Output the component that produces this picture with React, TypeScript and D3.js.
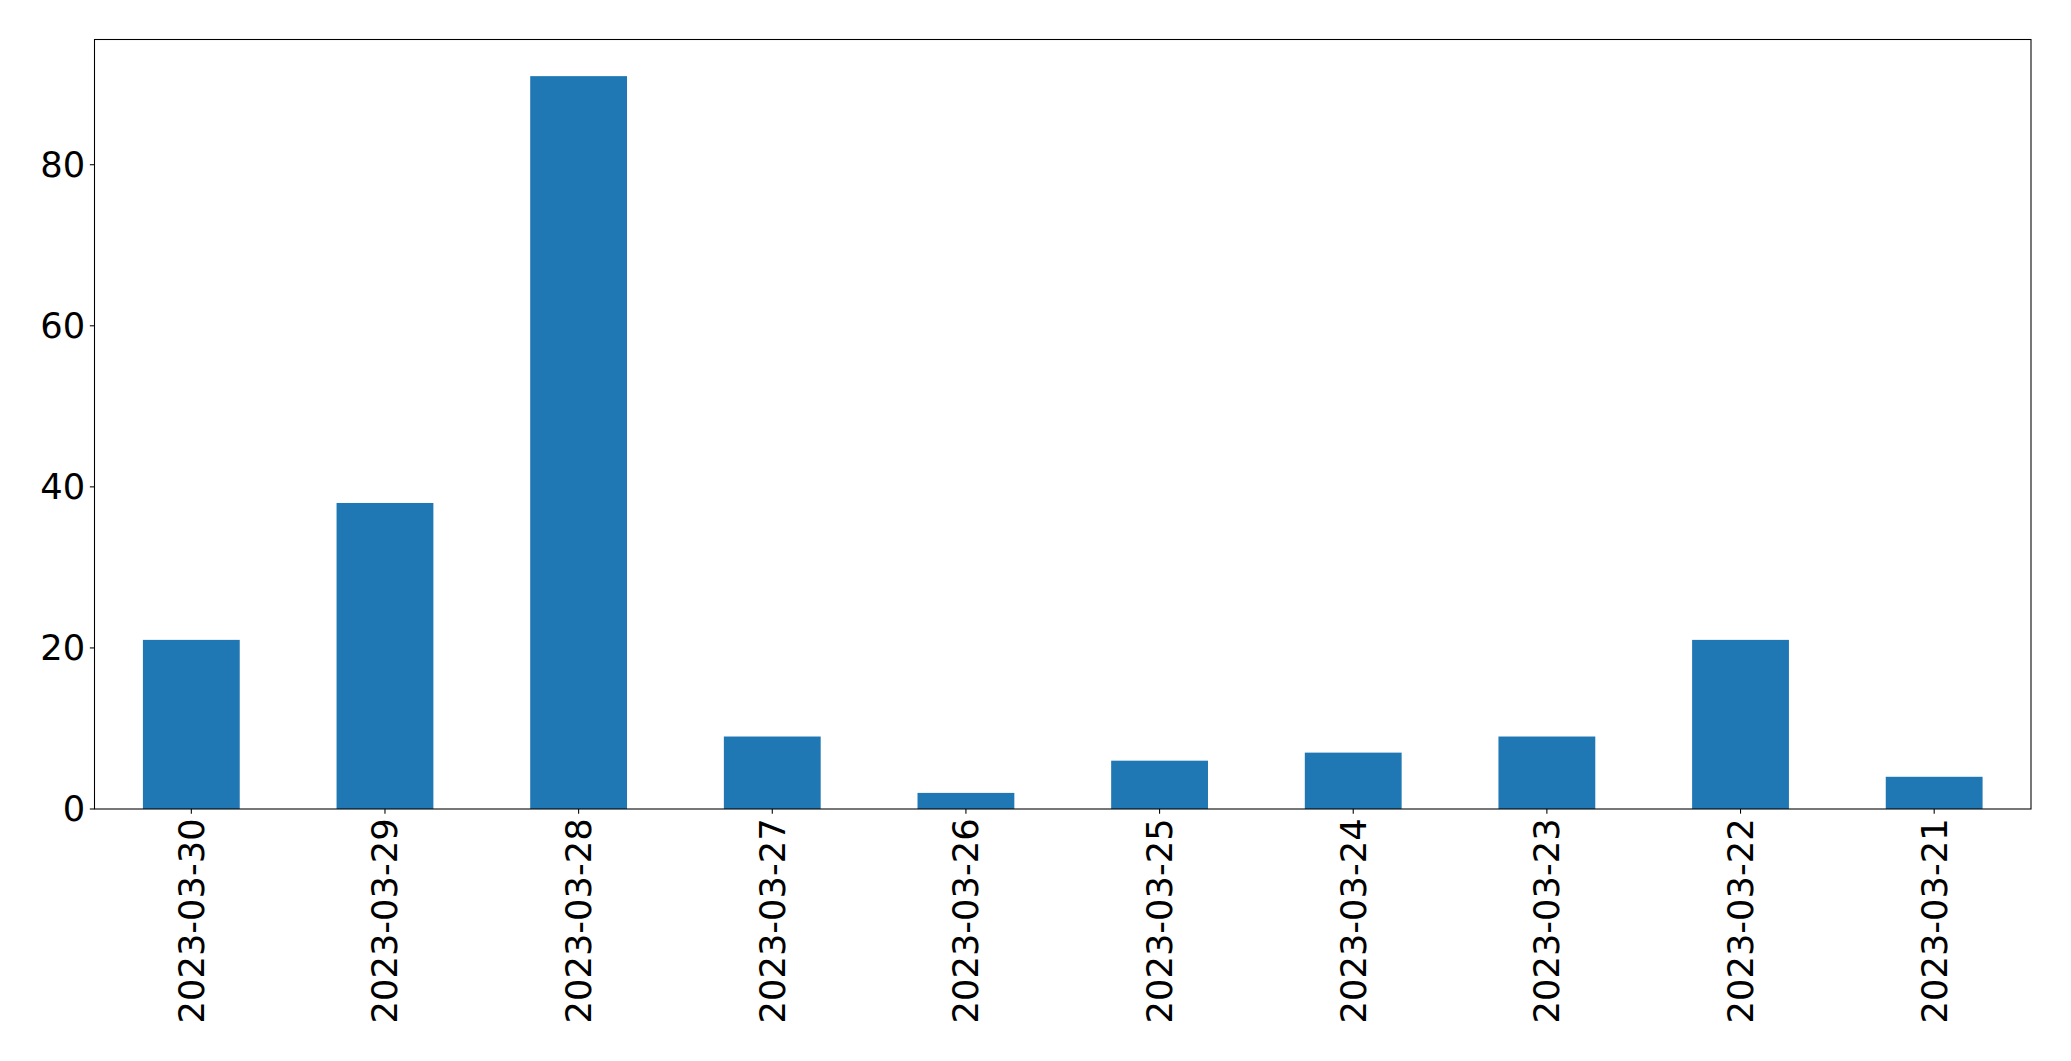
import React from "react";
import * as d3 from "d3";

const categories: string[] = [
  "2023-03-30",
  "2023-03-29",
  "2023-03-28",
  "2023-03-27",
  "2023-03-26",
  "2023-03-25",
  "2023-03-24",
  "2023-03-23",
  "2023-03-22",
  "2023-03-21",
];
const values: number[] = [21, 38, 91, 9, 2, 6, 7, 9, 21, 4];
const yTicks: number[] = [0, 20, 40, 60, 80];

const W = 2071;
const H = 1061;
const margin = { left: 94.5, right: 2071 - 2031, top: 39.5, bottom: 1061 - 809 };
const FONT = "'DejaVu Sans', sans-serif";
const FS = 35.3;
const TICK = 4.67;
const PAD = 4.67;

export default function App() {
  const iw = W - margin.left - margin.right;
  const ih = H - margin.top - margin.bottom;
  const x = d3.scaleBand<string>().domain(categories).range([0, iw]).paddingInner(0.5).paddingOuter(0.25);
  const yMax = (d3.max(values) ?? 0) * 1.05;
  const y = d3.scaleLinear().domain([0, yMax]).range([ih, 0]);

  return (
    <div style={{ position: "fixed", left: 0, top: 0 }}>
      <svg width={W} height={H} style={{ display: "block", background: "#fff" }}>
        <g transform={`translate(${margin.left},${margin.top})`}>
          {values.map((v, i) => (
            <rect
              key={categories[i]}
              x={x(categories[i])}
              y={y(v)}
              width={x.bandwidth()}
              height={ih - y(v)}
              fill="#1f77b4"
            />
          ))}
          <rect x={0} y={0} width={iw} height={ih} fill="none" stroke="#000" strokeWidth={1.07} />
          {yTicks.map((t) => (
            <g key={t} transform={`translate(0,${y(t)})`}>
              <line x1={-TICK} x2={0} stroke="#000" strokeWidth={1.07} />
              <text
                x={-TICK - PAD}
                dy="0.35em"
                textAnchor="end"
                fontFamily={FONT}
                fontSize={FS}
                fill="#000"
              >
                {t}
              </text>
            </g>
          ))}
          {categories.map((c) => {
            const cx = (x(c) ?? 0) + x.bandwidth() / 2;
            return (
              <g key={c} transform={`translate(${cx},${ih})`}>
                <line y1={0} y2={TICK} stroke="#000" strokeWidth={1.07} />
                <text
                  transform={`translate(0,${TICK + PAD}) rotate(-90)`}
                  textAnchor="end"
                  dy="0.35em"
                  fontFamily={FONT}
                  fontSize={FS}
                  fill="#000"
                >
                  {c}
                </text>
              </g>
            );
          })}
        </g>
      </svg>
    </div>
  );
}
